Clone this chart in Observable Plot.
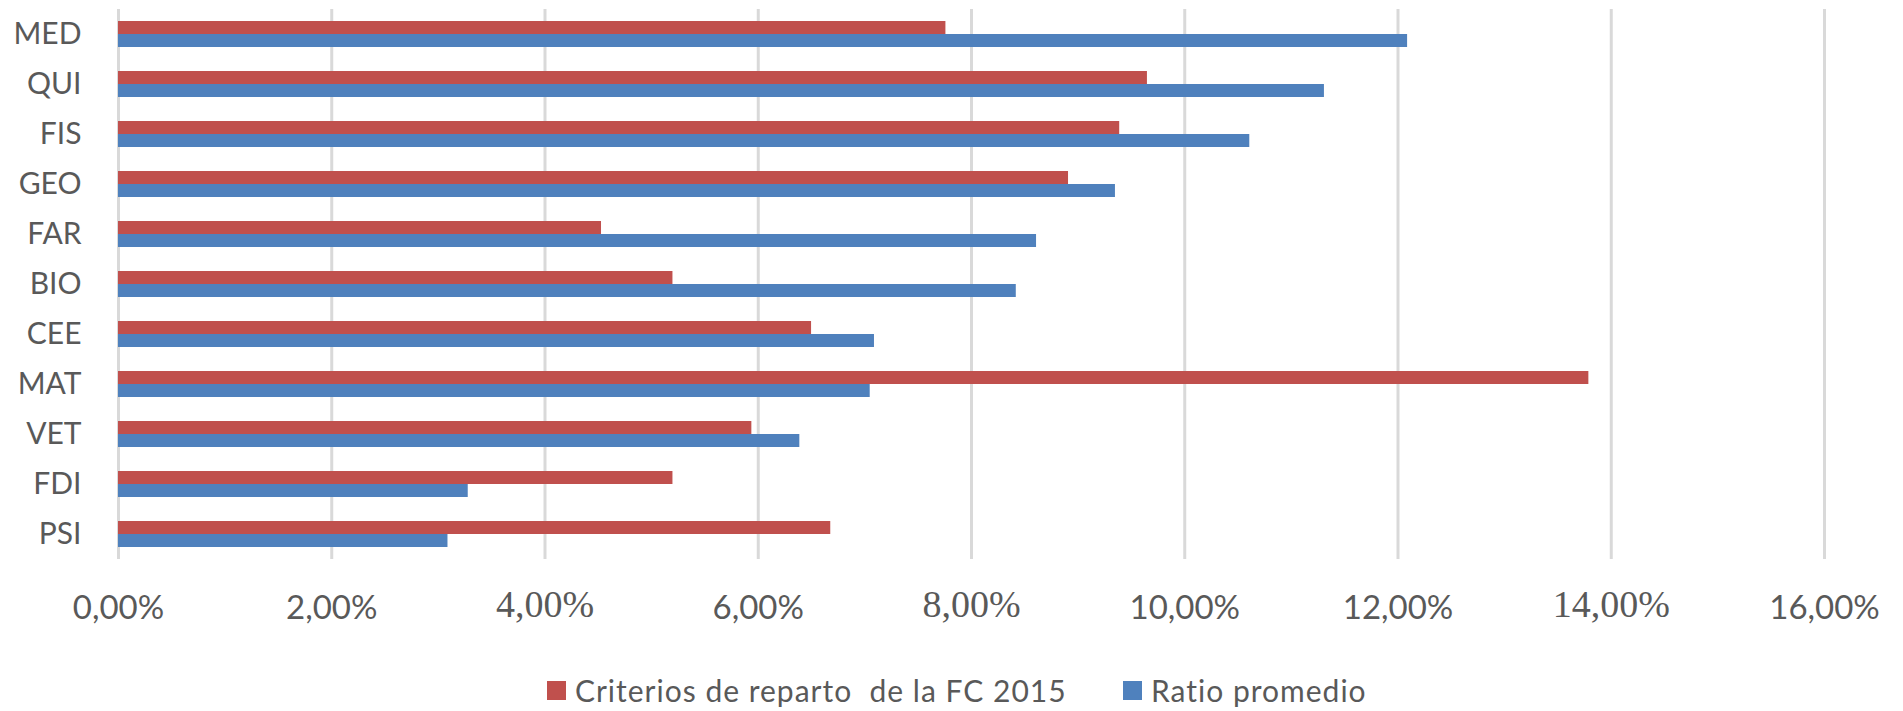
<!DOCTYPE html>
<html>
<head>
<meta charset="utf-8">
<script src="https://cdn.jsdelivr.net/npm/d3@7"></script>
<script src="https://cdn.jsdelivr.net/npm/@observablehq/plot@0.6"></script>
<style>
  html, body { margin: 0; padding: 0; background: #fff; }
  #legend { position: relative; height: 46px; font-family: Lato, sans-serif; font-size: 30px; color: #595959; letter-spacing: 1px; }
  .item { position: absolute; top: 7px; display: flex; align-items: center; white-space: pre; }
  .sw { width: 19px; height: 19px; margin-right: 9px; }
  .serif-tick, .serif-tick text { font-family: "Liberation Serif", "Times New Roman", serif !important; }
</style>
</head>
<body>
<div id="chart"></div>
<div id="legend"></div>
<script>
// Data (percent)
const categories = ["MED", "QUI", "FIS", "GEO", "FAR", "BIO", "CEE", "MAT", "VET", "FDI", "PSI"];
const criterios = [7.76, 9.65, 9.39, 8.91, 4.53, 5.20, 6.50, 13.79, 5.94, 5.20, 6.68];
const ratio = [12.09, 11.31, 10.61, 9.35, 8.61, 8.42, 7.09, 7.05, 6.39, 3.28, 3.09];
const seriesNames = ["Criterios de reparto  de la FC 2015", "Ratio promedio"];
const seriesColors = ["#C0504D", "#4F81BD"];
const gridTicks = [0, 2, 4, 6, 8, 10, 12, 14, 16];
const sansTicks = [0, 2, 6, 10, 12, 16];
const serifTicks = [4, 8, 14];

const rows = categories.map((c, i) => ({cat: c, a: criterios[i], b: ratio[i]}));
const fmt = d => d.toFixed(2).replace(".", ",") + "%";

const W = 1903, H = 665;
const chart = Plot.plot({
  width: W,
  height: H,
  marginTop: 9,
  marginBottom: H - 559,
  marginLeft: 118,
  marginRight: 79,
  style: {fontFamily: "Lato, sans-serif", color: "#595959", background: "white"},
  x: {domain: [0, 16]},
  y: {domain: categories, padding: 0},
  marks: [
    Plot.gridX(gridTicks, {stroke: "#d9d9d9", strokeOpacity: 1, strokeWidth: 3}),
    Plot.barX(rows, {x: "a", y: "cat", fill: seriesColors[0], insetTop: 12, insetBottom: 25}),
    Plot.barX(rows, {x: "b", y: "cat", fill: seriesColors[1], insetTop: 25, insetBottom: 12}),
    Plot.axisY({label: null, tickSize: 0, tickPadding: 37, fontSize: 30, fontFamily: "Lato, sans-serif", color: "#595959"}),
    Plot.axisX({ticks: sansTicks, label: null, tickFormat: fmt, tickSize: 0, tickPadding: 36, fontSize: 33, fontFamily: "Lato, sans-serif", color: "#595959"}),
    Plot.text(serifTicks, {x: d => d, text: fmt, frameAnchor: "bottom", lineAnchor: "top", dy: 31, fontSize: 38, fontFamily: "Liberation Serif", fill: "#595959", className: "serif-tick"})
  ]
});
d3.select(chart).selectAll(".serif-tick text").style("font-family", "'Liberation Serif', serif");
document.getElementById("chart").appendChild(chart);

const legend = document.getElementById("legend");
const lefts = [547, 1123];
seriesNames.forEach((name, i) => {
  const item = document.createElement("div");
  item.className = "item";
  item.style.left = lefts[i] + "px";
  const sw = document.createElement("span");
  sw.className = "sw";
  sw.style.background = seriesColors[i];
  const t = document.createElement("span");
  t.textContent = name;
  item.appendChild(sw);
  item.appendChild(t);
  legend.appendChild(item);
});
</script>
</body>
</html>
